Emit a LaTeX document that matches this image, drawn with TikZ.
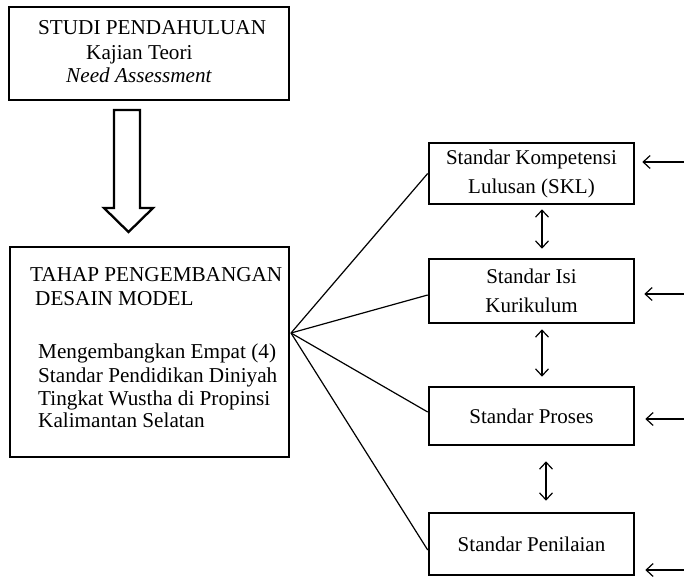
\documentclass[tikz,border=0pt]{standalone}
\usepackage{fontspec}
\setmainfont{Liberation Serif}
\usetikzlibrary{arrows.meta}
\begin{document}
\begin{tikzpicture}[x=1pt,y=-1pt,
  box/.style={draw,line width=2.6pt,inner sep=0pt},
  stdbox/.style={box,minimum width=205pt,align=center,
    font=\fontsize{21}{29}\selectfont},
  txt/.style={inner sep=0pt,anchor=base west,font=\fontsize{21.2}{23}\selectfont},
  fan/.style={line width=1.2pt},
  arr/.style={line width=1.2pt,-{Straight Barb[length=7pt,width=13pt]}},
  dbl/.style={line width=1.2pt,{Straight Barb[length=7pt,width=13pt]}-{Straight Barb[length=7pt,width=13pt]}}]
\useasboundingbox (0,0) rectangle (684,577);

% left column: study stages
\node[box,minimum width=280pt,minimum height=93pt] (s1) at (149,53.5) {};
\node[txt] (s1a) at (38,35) {STUDI PENDAHULUAN};
\node[txt] (s1b) at (86,60) {Kajian Teori};
\node[txt] (s1c) at (66,83) {\itshape Need Assessment};

\node[box,minimum width=279pt,minimum height=210pt] (s2) at (149.5,352) {};
\node[txt] (s2a) at (30,281) {TAHAP PENGEMBANGAN};
\node[txt] (s2b) at (35,305) {DESAIN MODEL};
\node[txt] (s2c) at (38,358) {Mengembangkan Empat (4)};
\node[txt] (s2d) at (38,382) {Standar Pendidikan Diniyah};
\node[txt] (s2e) at (38,405) {Tingkat Wustha di Propinsi};
\node[txt] (s2f) at (38,427) {Kalimantan Selatan};

% hollow block arrow between the two stages
\draw[line width=2.3pt,line join=miter,fill=white]
  (114,110) -- (114,208) -- (104,208) -- (128.5,232) -- (153,208)
  -- (140,208) -- (140,110) -- cycle;

% right column: the four standards
\node[stdbox,minimum height=61pt] (skl) at (531.5,173.5) {Standar Kompetensi\\Lulusan (SKL)};
\node[stdbox,minimum height=64pt] (isi) at (531.5,291) {Standar Isi\\Kurikulum};
\node[stdbox,minimum height=58pt] (pro) at (531.5,416) {Standar Proses};
\node[stdbox,minimum height=62pt] (pen) at (531.5,544) {Standar Penilaian};

% fan of lines from the development stage
\coordinate (hub) at (291,333);
\draw[fan] (hub) -- (skl.west);
\draw[fan] (hub) -- ([yshift=-4pt]isi.west);
\draw[fan] (hub) -- ([yshift=4pt]pro.west);
\draw[fan] (hub) -- ([yshift=-6pt]pen.west);

% links between neighbouring standards
\draw[dbl] ([xshift=10.5pt,yshift=-4pt]skl.south) -- ([xshift=10.5pt,yshift=9pt]isi.north);
\draw[dbl] ([xshift=10.5pt,yshift=-5pt]isi.south) -- ([xshift=10.5pt,yshift=9pt]pro.north);
\draw[dbl] ([xshift=14.5pt,yshift=-15pt]pro.south) -- ([xshift=14.5pt,yshift=11pt]pen.north);

% incoming arrows from the right
\coordinate (in1) at (684,162);
\coordinate (in2) at (684,294);
\coordinate (in3) at (684,419);
\coordinate (in4) at (684,570);
\draw[arr] (in1) -- ([xshift=7pt]in1 -| skl.east);
\draw[arr] (in2) -- ([xshift=9pt]in2 -| isi.east);
\draw[arr] (in3) -- ([xshift=10pt]in3 -| pro.east);
\draw[arr] (in4) -- ([xshift=10pt]in4 -| pen.east);
\end{tikzpicture}
\end{document}
